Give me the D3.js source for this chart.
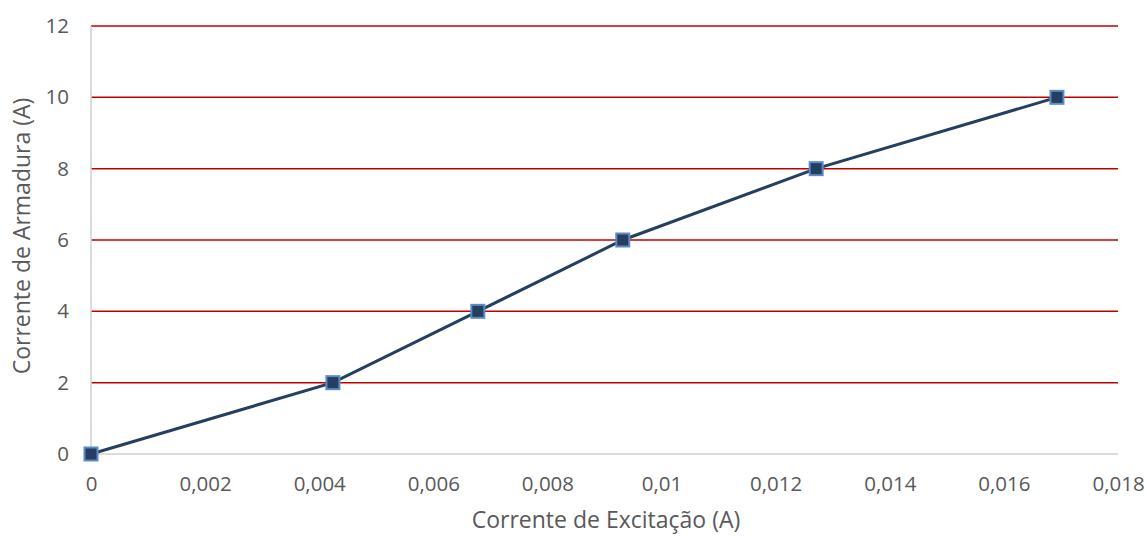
<!DOCTYPE html>
<html>
<head>
<meta charset="utf-8">
<script src="https://cdn.jsdelivr.net/npm/d3@7"></script>
<style>
  html, body { margin: 0; padding: 0; background: #fff; }
  svg { display: block; font-family: "Open Sans", sans-serif; }
</style>
</head>
<body>
<svg id="chart" width="1147" height="536"></svg>
<script>
// Excitation current (A) vs armature current (A)
const excitation = [0, 0.00424, 0.00678, 0.00932, 0.01271, 0.01693];
const armature = [0, 2, 4, 6, 8, 10];
const xTicks = [0, 0.002, 0.004, 0.006, 0.008, 0.01, 0.012, 0.014, 0.016, 0.018];
const yTicks = [0, 2, 4, 6, 8, 10, 12];
const xTitle = "Corrente de Excitação (A)";
const yTitle = "Corrente de Armadura (A)";

const svg = d3.select("#chart");
const plotLeft = 91, plotRight = 1118, plotTop = 26, plotBottom = 454;

const x = d3.scaleLinear().domain([0, 0.018]).range([plotLeft, plotRight]);
const y = d3.scaleLinear().domain([0, 12]).range([plotBottom, plotTop]);
const fmt = d => String(+d.toFixed(3)).replace(".", ",");

// horizontal gridlines
svg.append("g")
  .selectAll("line")
  .data(yTicks.filter(d => d !== 0))
  .join("line")
  .attr("x1", plotLeft).attr("x2", plotRight)
  .attr("y1", d => y(d)).attr("y2", d => y(d))
  .attr("stroke", "#c00000").attr("stroke-width", 1.5);

// axis lines
svg.append("line")
  .attr("x1", plotLeft).attr("x2", plotLeft).attr("y1", plotTop).attr("y2", plotBottom)
  .attr("stroke", "#d0d0d0").attr("stroke-width", 1.5);
svg.append("line")
  .attr("x1", plotLeft).attr("x2", plotRight).attr("y1", plotBottom).attr("y2", plotBottom)
  .attr("stroke", "#d0d0d0").attr("stroke-width", 1.5);

// tick labels
const xAxis = svg.append("g").attr("transform", `translate(0,${plotBottom})`)
  .call(d3.axisBottom(x).tickValues(xTicks).tickFormat(fmt).tickSize(0).tickPadding(22));
const yAxis = svg.append("g").attr("transform", `translate(${plotLeft},0)`)
  .call(d3.axisLeft(y).tickValues(yTicks).tickFormat(d => d).tickSize(0).tickPadding(22));
[xAxis, yAxis].forEach(g => {
  g.select(".domain").remove();
  g.selectAll("text").attr("fill", "#595959").attr("font-size", 20.5)
    .attr("font-family", "'Open Sans', sans-serif");
});

// axis titles
svg.append("text")
  .attr("x", 606).attr("y", 528)
  .attr("text-anchor", "middle").attr("fill", "#595959").attr("font-size", 23)
  .text(xTitle);
svg.append("text")
  .attr("transform", `translate(30,${(plotTop + plotBottom) / 2 - 4}) rotate(-90)`)
  .attr("text-anchor", "middle").attr("fill", "#595959").attr("font-size", 23)
  .text(yTitle);

// series line
const pts = excitation.map((v, i) => [v, armature[i]]);
svg.append("path")
  .datum(pts)
  .attr("fill", "none").attr("stroke", "#243f60").attr("stroke-width", 3)
  .attr("d", d3.line().x(d => x(d[0])).y(d => y(d[1])));

// square markers
const s = 13;
svg.append("g").selectAll("rect")
  .data(pts)
  .join("rect")
  .attr("x", d => x(d[0]) - s / 2).attr("y", d => y(d[1]) - s / 2)
  .attr("width", s).attr("height", s)
  .attr("fill", "#243f60").attr("stroke", "#5b8cc8").attr("stroke-width", 2);
</script>
</body>
</html>
